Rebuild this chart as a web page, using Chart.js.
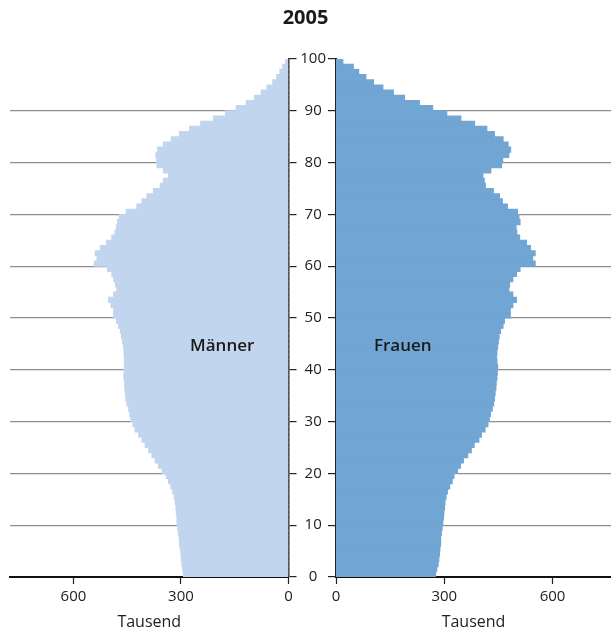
<!DOCTYPE html>
<html>
<head>
<meta charset="utf-8">
<script src="https://cdn.jsdelivr.net/npm/chart.js@4/dist/chart.umd.min.js"></script>
<style>
  html, body { margin: 0; padding: 0; background: #fff; }
  #wrap { position: relative; width: 611px; height: 633px; }
  #wrap canvas { position: absolute; left: 0; top: 0; }
</style>
</head>
<body>
<div id="wrap">
  <canvas id="men" width="611" height="633"></canvas>
  <canvas id="women" width="611" height="633"></canvas>
</div>
<script>
const chartTitle = '2005';
const unitLabel = 'Tausend';
const seriesNames = ['Männer', 'Frauen'];

// age groups (single years, bar covers [age, age+1))
const ages = [
  0, 1, 2, 3, 4, 5, 6, 7, 8, 9,
  10, 11, 12, 13, 14, 15, 16, 17, 18, 19,
  20, 21, 22, 23, 24, 25, 26, 27, 28, 29,
  30, 31, 32, 33, 34, 35, 36, 37, 38, 39,
  40, 41, 42, 43, 44, 45, 46, 47, 48, 49,
  50, 51, 52, 53, 54, 55, 56, 57, 58, 59,
  60, 61, 62, 63, 64, 65, 66, 67, 68, 69,
  70, 71, 72, 73, 74, 75, 76, 77, 78, 79,
  80, 81, 82, 83, 84, 85, 86, 87, 88, 89,
  90, 91, 92, 93, 94, 95, 96, 97, 98, 99
];

// thousands
const men = [
  293, 295, 297, 299, 300, 302, 304, 305, 307, 309,
  311, 311, 313, 314, 316, 319, 323, 328, 335, 341,
  353, 363, 372, 381, 390, 400, 409, 418, 428, 434,
  440, 443, 446, 451, 454, 455, 457, 457, 459, 459,
  458, 458, 458, 459, 460, 463, 466, 469, 474, 480,
  488, 488, 495, 502, 488, 479, 483, 488, 493, 505,
  542, 534, 539, 525, 508, 493, 484, 480, 477, 472,
  453, 423, 409, 395, 377, 358, 349, 335, 349, 367,
  368, 370, 365, 349, 327, 304, 276, 245, 209, 176,
  146, 118, 95, 76, 60, 44, 33, 24, 16, 8
];

const women = [
  276, 279, 283, 285, 287, 288, 290, 290, 292, 294,
  296, 298, 299, 301, 302, 305, 309, 315, 322, 327,
  337, 345, 353, 365, 375, 383, 396, 403, 413, 421,
  425, 428, 433, 437, 439, 441, 443, 444, 446, 447,
  448, 446, 445, 446, 448, 450, 452, 456, 463, 467,
  483, 483, 490, 500, 490, 479, 481, 490, 500, 510,
  552, 545, 552, 539, 528, 509, 501, 499, 510, 507,
  503, 475, 461, 453, 436, 414, 411, 407, 429, 459,
  462, 479, 484, 477, 463, 439, 418, 384, 346, 307,
  268, 231, 190, 159, 130, 104, 83, 63, 48, 19
];

const ageTicks = [0, 10, 20, 30, 40, 50, 60, 70, 80, 90, 100];
const valueTicks = [0, 300, 600];

Chart.defaults.font.family = "'Open Sans', 'Noto Sans', sans-serif";
Chart.defaults.color = '#222';

const MEN_COLOR = '#c2d5ee';
const WOMEN_COLOR = '#71a5d3';
const GRID_COLOR = '#8e8e8e';
const AXIS_COLOR = '#222';

function toPoints(values) {
  return values.map((v, i) => ({ x: v, y: ages[i] + 0.5 }));
}

function gridColor(ctx) {
  if (!ctx.tick) return GRID_COLOR;
  const v = ctx.tick.value;
  return (v === 0 || v === 100) ? 'rgba(0,0,0,0)' : GRID_COLOR;
}

// draws the series name inside the bars and (optionally) the title
const textPlugin = {
  id: 'textLabels',
  afterDraw(chart, args, opts) {
    const { ctx, scales } = chart;
    ctx.save();
    ctx.fillStyle = '#1a1a1a';
    ctx.textAlign = 'center';
    ctx.textBaseline = 'middle';
    ctx.font = "600 17px 'Open Sans', sans-serif";
    ctx.fillText(opts.name, scales.x.getPixelForValue(opts.at[0]), scales.y.getPixelForValue(opts.at[1]));
    if (opts.title) {
      ctx.font = "bold 20px 'Open Sans', sans-serif";
      ctx.fillText(opts.title, chart.width / 2, 18);
    }
    ctx.restore();
  }
};

function makeChart(canvas, cfg) {
  return new Chart(canvas, {
    type: 'bar',
    data: {
      datasets: [{
        label: cfg.name,
        data: toPoints(cfg.values),
        backgroundColor: cfg.color,
        borderWidth: 0,
        inflateAmount: 0.5,
        barPercentage: 1,
        categoryPercentage: 1
      }]
    },
    options: {
      indexAxis: 'y',
      responsive: false,
      animation: false,
      layout: { padding: cfg.padding },
      plugins: {
        legend: { display: false },
        tooltip: { enabled: false },
        textLabels: { name: cfg.name, at: [185, 44.6], title: cfg.title }
      },
      scales: {
        x: {
          type: 'linear',
          reverse: cfg.reverse,
          min: 0,
          max: cfg.max,
          afterBuildTicks: s => { s.ticks = valueTicks.map(v => ({ value: v })); },
          ticks: { font: { size: 15 }, color: '#222', padding: 4 },
          grid: { drawOnChartArea: false, tickLength: 7, tickColor: AXIS_COLOR, tickWidth: 1.2 },
          border: { color: '#111', width: 2 },
          title: {
            display: true,
            text: unitLabel,
            font: { size: 16 },
            color: '#222',
            padding: { top: 0, bottom: 1 }
          },
          afterFit: s => { s.height = 56; }
        },
        y: {
          type: 'linear',
          position: cfg.yPos,
          min: 0,
          max: 100,
          offset: false,
          z: 1,
          afterBuildTicks: s => { s.ticks = ageTicks.map(v => ({ value: v })); },
          ticks: {
            display: cfg.yLabels,
            font: { size: 15 },
            color: '#222',
            padding: 2,
            crossAlign: 'center'
          },
          grid: {
            offset: false,
            color: gridColor,
            lineWidth: 1.2,
            tickLength: 8,
            tickColor: AXIS_COLOR,
            tickWidth: 1.2
          },
          border: { color: AXIS_COLOR, width: cfg.borderWidth },
          afterFit: s => { s.width = cfg.yWidth; }
        }
      }
    },
    plugins: [textPlugin]
  });
}

makeChart(document.getElementById('men'), {
  name: seriesNames[0],
  values: men,
  color: MEN_COLOR,
  reverse: true,
  max: 777,
  yPos: 'right',
  yLabels: false,
  yWidth: 11.5,
  borderWidth: 1.5,
  padding: { left: 10, right: 311, top: 59, bottom: 0 }
});

makeChart(document.getElementById('women'), {
  name: seriesNames[1],
  values: women,
  color: WOMEN_COLOR,
  reverse: false,
  max: 762,
  yPos: 'left',
  yLabels: true,
  yWidth: 36,
  borderWidth: 2,
  title: chartTitle,
  padding: { left: 300, right: 0, top: 59, bottom: 0 }
});
</script>
</body>
</html>
